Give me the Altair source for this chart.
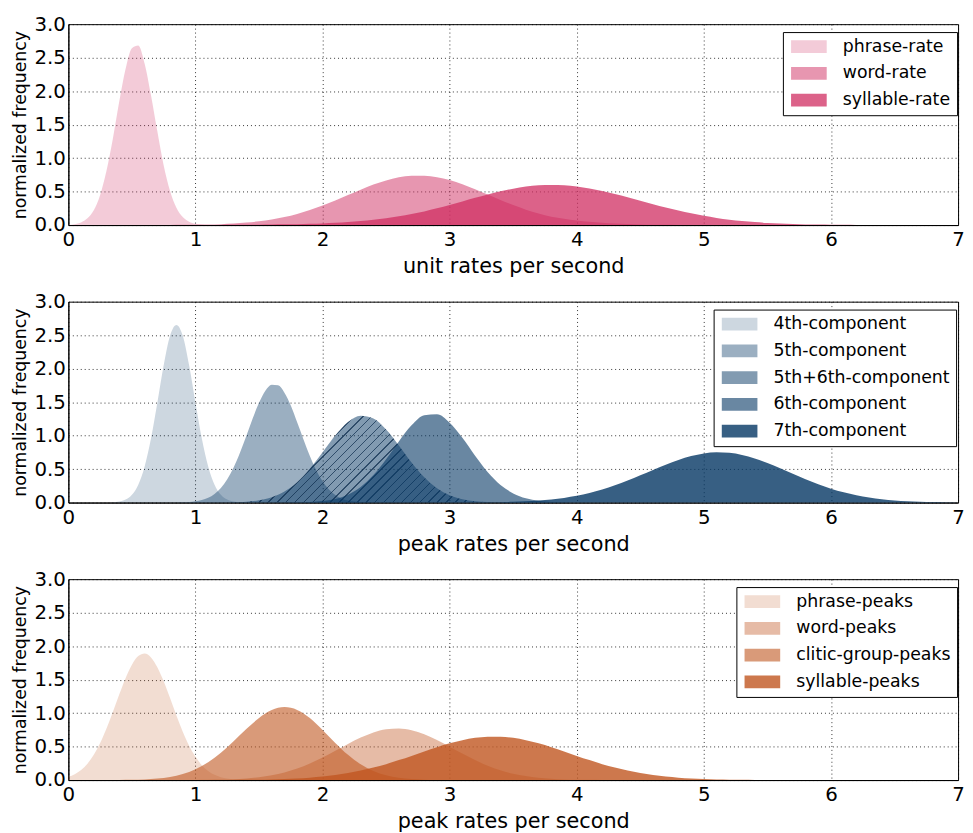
import altair as alt
import pandas as pd

FONT = "DejaVu Sans"
W_PLOT, H_PLOT = 899, 203
X_TICKS = [0, 1, 2, 3, 4, 5, 6, 7]
Y_TICKS = [0.0, 0.5, 1.0, 1.5, 2.0, 2.5, 3.0]


def grid(a, b, step):
    n = int(round((b - a) / step)) + 1
    return [round(a + i * step, 3) for i in range(n)]


# ---------------- panel 1: unit rates ----------------
unit_names = ["phrase-rate", "word-rate", "syllable-rate"]
unit_colors = ["rgba(208,46,98,0.25)", "rgba(208,46,98,0.5)", "rgba(208,46,98,0.75)"]

phrase_rate_x = grid(0.0, 1.15, 0.05)
phrase_rate_y = [0.004, 0.014, 0.04, 0.10, 0.22, 0.45, 0.81, 1.29, 1.84, 2.33, 2.64, 2.68,
                 2.41, 1.94, 1.40, 0.89, 0.51, 0.26, 0.12, 0.05, 0.02, 0.006, 0.002, 0.0]
word_rate_x = grid(0.7, 5.0, 0.1)
word_rate_y = [0.0, 0.001, 0.003, 0.005, 0.008, 0.014, 0.023, 0.037, 0.056, 0.083, 0.12,
               0.166, 0.224, 0.292, 0.368, 0.449, 0.529, 0.604, 0.667, 0.713, 0.737, 0.737,
               0.713, 0.672, 0.61, 0.535, 0.455, 0.375, 0.298, 0.23, 0.172, 0.125, 0.095,
               0.07, 0.05, 0.035, 0.024, 0.016, 0.01, 0.006, 0.004, 0.002, 0.001, 0.0]
syllable_rate_x = grid(1.0, 6.5, 0.1)
syllable_rate_y = [0.001, 0.0015, 0.002, 0.003, 0.004, 0.006, 0.008, 0.011, 0.014, 0.019,
                   0.025, 0.034, 0.045, 0.06, 0.078, 0.10, 0.13, 0.165, 0.204, 0.25,
                   0.30, 0.353, 0.407, 0.458, 0.505, 0.544, 0.575, 0.594, 0.60, 0.594,
                   0.576, 0.547, 0.51, 0.465, 0.416, 0.364, 0.312, 0.262, 0.216, 0.175,
                   0.138, 0.107, 0.081, 0.06, 0.044, 0.031, 0.022, 0.015, 0.010, 0.007,
                   0.004, 0.003, 0.002, 0.001, 0.0005, 0.0]

# ---------------- panel 2: components ----------------
comp_names = ["4th-component", "5th-component", "5th+6th-component", "6th-component", "7th-component"]
comp_colors = ["rgba(5,55,100,0.2)", "rgba(5,55,100,0.4)", "rgba(5,55,100,0.5)",
               "rgba(5,55,100,0.6)", "rgba(5,55,100,0.8)"]

c4_x = grid(0.30, 1.45, 0.05)
c4_y = [0.001, 0.004, 0.015, 0.045, 0.116, 0.267, 0.538, 0.955, 1.49, 2.05, 2.49, 2.65,
        2.49, 2.05, 1.49, 0.955, 0.538, 0.267, 0.116, 0.045, 0.015, 0.004, 0.001, 0.0]
c5_x = grid(0.85, 2.45, 0.05)
c5_y = [0.002, 0.004, 0.008, 0.018, 0.037, 0.071, 0.128, 0.217, 0.347, 0.523,
        0.743, 0.995, 1.255, 1.49, 1.67, 1.76, 1.75, 1.64, 1.45, 1.20,
        0.943, 0.696, 0.484, 0.317, 0.196, 0.114, 0.062, 0.032, 0.016, 0.007,
        0.003, 0.001, 0.0]
c56_x = grid(1.1, 3.5, 0.1)
c56_y = [0.0, 0.002, 0.005, 0.014, 0.035, 0.08, 0.165, 0.304, 0.504, 0.75, 1.0, 1.203,
         1.297, 1.256, 1.092, 0.853, 0.598, 0.377, 0.213, 0.108, 0.049, 0.02, 0.007,
         0.002, 0.0]
c6_x = grid(1.7, 4.0, 0.1)
c6_y = [0.0, 0.003, 0.008, 0.022, 0.054, 0.118, 0.233, 0.41, 0.647, 0.913, 1.153, 1.304,
        1.318, 1.193, 0.966, 0.70, 0.453, 0.263, 0.137, 0.064, 0.026, 0.01, 0.003, 0.0]
c7_x = grid(3.3, 7.0, 0.1)
c7_y = [0.0, 0.006, 0.011, 0.019, 0.03, 0.047, 0.07,
        0.101, 0.143, 0.194, 0.257, 0.328, 0.406, 0.487, 0.566, 0.637, 0.694,
        0.733, 0.75, 0.742, 0.711, 0.659, 0.591, 0.512, 0.43, 0.349, 0.274,
        0.208, 0.153, 0.109, 0.075, 0.05, 0.032, 0.02, 0.012, 0.007, 0.004,
        0.002]

# ---------------- panel 3: peaks ----------------
peak_names = ["phrase-peaks", "word-peaks", "clitic-group-peaks", "syllable-peaks"]
peak_colors = ["rgba(192,86,32,0.2)", "rgba(192,86,32,0.4)", "rgba(192,86,32,0.6)",
               "rgba(192,86,32,0.8)"]

phrase_peaks_x = grid(0.0, 1.6, 0.05)
phrase_peaks_y = [0.049, 0.088, 0.15, 0.244, 0.377, 0.552, 0.769, 1.017, 1.276, 1.521,
                  1.722, 1.851, 1.89, 1.832, 1.686, 1.475, 1.225, 0.965, 0.723, 0.514,
                  0.348, 0.222, 0.136, 0.078, 0.043, 0.023, 0.012, 0.006, 0.003, 0.002,
                  0.001, 0.0005, 0.0]
word_peaks_x = grid(0.8, 4.4, 0.1)
word_peaks_y = [0.0, 0.001,
                0.002, 0.004, 0.007, 0.013, 0.025, 0.043, 0.072, 0.114, 0.171, 0.246,
                0.336, 0.436, 0.539, 0.634, 0.711, 0.758, 0.769, 0.743, 0.683, 0.598,
                0.498, 0.395, 0.298, 0.214, 0.146, 0.095, 0.059, 0.035, 0.02, 0.01,
                0.005, 0.003, 0.001, 0.0005, 0.0]
clitic_peaks_x = grid(0.4, 3.0, 0.1)
clitic_peaks_y = [0.001, 0.004, 0.01, 0.022, 0.046, 0.089,
                  0.16, 0.265, 0.407, 0.579, 0.761, 0.927, 1.045, 1.09, 1.048, 0.925,
                  0.748, 0.555, 0.377, 0.235, 0.135, 0.071, 0.034, 0.015, 0.006, 0.002,
                  0.0]
syllable_peaks_x = grid(1.2, 5.8, 0.1)
syllable_peaks_y = [0.001, 0.002, 0.003, 0.005, 0.009, 0.015, 0.023, 0.035,
                    0.052, 0.074, 0.104, 0.141, 0.186, 0.238, 0.298, 0.361, 0.427, 0.491,
                    0.548, 0.596, 0.63, 0.648, 0.648, 0.63, 0.596, 0.548, 0.491, 0.427,
                    0.361, 0.298, 0.238, 0.186, 0.141, 0.104, 0.074, 0.052, 0.035, 0.023,
                    0.015, 0.009, 0.006, 0.004, 0.002, 0.0015, 0.001, 0.0005, 0.0]

# ---------------- hatch pattern (style) for 5th+6th ----------------
px_x = W_PLOT / 7.0
px_y = H_PLOT / 3.0
bw = (max(c56_x) - min(c56_x)) * px_x
bh = max(c56_y) * px_y
tot = bw + bh
cc = tot / (bw ** 2 + bh ** 2)
HATCH_BG = "rgba(5,55,100,0.5)"
HATCH_LN = "rgba(10,45,80,0.85)"
spacing_px, line_px = 9.0, 1.5
stops = [{"offset": 0.0, "color": HATCH_BG}]
k = 0
while True:
    t = (4.0 + k * spacing_px) / tot
    a = t - line_px / 2 / tot
    b = t + line_px / 2 / tot
    if b >= 1:
        break
    stops += [{"offset": a, "color": HATCH_BG}, {"offset": a, "color": HATCH_LN},
              {"offset": b, "color": HATCH_LN}, {"offset": b, "color": HATCH_BG}]
    k += 1
stops.append({"offset": 1.0, "color": HATCH_BG})
hatch_fill = alt.LinearGradient(gradient="linear", x1=0, y1=0, x2=bw * cc, y2=bh * cc, stops=stops)

LEG_SYMBOL = "M-1,-1H4.54V1H-1Z"


def make_panel(names, colors, series, xtitle, legend_x, hatched=None):
    cscale = alt.Scale(domain=names, range=colors)
    leg = alt.Legend(title=None, orient="none", legendX=legend_x, legendY=8,
                     symbolType=LEG_SYMBOL,
                     symbolSize=169, symbolStrokeWidth=0, symbolOpacity=1,
                     labelOffset=37, rowPadding=8,
                     padding=6, strokeColor="black", fillColor="white",
                     labelFont=FONT, labelFontSize=17.5, labelColor="black", labelLimit=400)
    xenc = alt.X("x:Q", scale=alt.Scale(domain=[0, 7], nice=False, zero=False),
                 axis=alt.Axis(title=xtitle, values=X_TICKS, format="d",
                               labelFlush=False, labelOverlap=False))
    yenc = alt.Y("y:Q", stack=None, scale=alt.Scale(domain=[0, 3], nice=False),
                 axis=alt.Axis(title="normalized frequency", values=Y_TICKS, format=".1f",
                               labelFlush=False, labelOverlap=False))
    layers = []
    for name, xs, ys in series:
        df = pd.DataFrame({"x": xs, "y": ys, "series": name})
        base = alt.Chart(df).mark_area(interpolate="monotone", opacity=1)
        if hatched is not None and name == hatched:
            layers.append(base.encode(x=xenc, y=yenc, color=alt.value(hatch_fill)))
        else:
            layers.append(base.encode(
                x=xenc, y=yenc,
                color=alt.Color("series:N", scale=cscale, legend=leg)))
    return alt.layer(*layers).properties(width=W_PLOT, height=H_PLOT)


p1 = make_panel(unit_names, unit_colors,
                [("phrase-rate", phrase_rate_x, phrase_rate_y),
                 ("word-rate", word_rate_x, word_rate_y),
                 ("syllable-rate", syllable_rate_x, syllable_rate_y)],
                "unit rates per second", 722)
p2 = make_panel(comp_names, comp_colors,
                [("4th-component", c4_x, c4_y),
                 ("5th-component", c5_x, c5_y),
                 ("5th+6th-component", c56_x, c56_y),
                 ("6th-component", c6_x, c6_y),
                 ("7th-component", c7_x, c7_y)],
                "peak rates per second", 652, hatched="5th+6th-component")
p3 = make_panel(peak_names, peak_colors,
                [("phrase-peaks", phrase_peaks_x, phrase_peaks_y),
                 ("word-peaks", word_peaks_x, word_peaks_y),
                 ("clitic-group-peaks", clitic_peaks_x, clitic_peaks_y),
                 ("syllable-peaks", syllable_peaks_x, syllable_peaks_y)],
                "peak rates per second", 675)

chart = alt.vconcat(p1, p2, p3, spacing=77.4, bounds="flush").resolve_scale(
    color="independent"
).resolve_legend(
    color="independent"
).properties(
    padding={"left": 2, "top": 1, "right": 0, "bottom": 0},
    background="white",
).configure_view(
    stroke="black", strokeWidth=1
).configure_axis(
    labelFont=FONT, labelFontSize=20, labelColor="black",
    titleFont=FONT, titleFontWeight="normal", titleColor="black",
    gridColor="black", gridDash=[1, 3], gridOpacity=0.8, gridWidth=1,
    domainColor="black", domainWidth=1, ticks=False, zindex=1,
).configure_axisX(
    titleFontSize=21, labelPadding=5, titlePadding=6,
).configure_axisY(
    titleFontSize=17.5, labelPadding=3, titlePadding=5,
)

chart.save("out.html", embed_options={"renderer": "svg", "actions": False})
